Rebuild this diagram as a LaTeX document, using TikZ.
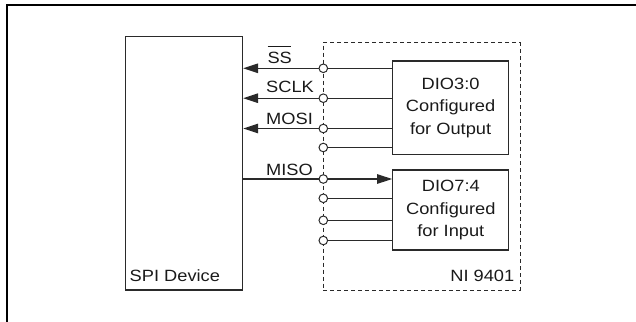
\documentclass[tikz,border=0pt]{standalone}
\usepackage{fontspec}
\setmainfont{Liberation Sans}[FakeStretch=1.12]
\usetikzlibrary{arrows.meta}
\definecolor{ink}{HTML}{2A2A2A}
\definecolor{txt}{HTML}{1A1A1A}
\tikzset{
  box/.style={draw=ink, line width=1.35pt, inner sep=0pt},
  dashbox/.style={draw=ink, line width=1pt, dash pattern=on 4pt off 3pt, inner sep=0pt},
  wire/.style={draw=ink, line width=1.35pt},
  arr/.style={wire, -{Triangle[length=15pt,width=9.5pt]}},
  pin/.style={circle, draw=ink, fill=white, line width=1pt, minimum size=8.6pt, inner sep=0pt},
  lbl/.style={inner sep=0pt, text=txt, font=\fontsize{16.3}{23}\selectfont},
  boxtxt/.style={box, align=center, text=txt, font=\fontsize{16.3}{22.5}\selectfont},
}
\begin{document}
\begin{tikzpicture}[x=1pt,y=-1pt]
\useasboundingbox (0,0) rectangle (636,321);
% frame
\coordinate (fbl) at (6.7,321);
\coordinate (ftl) at (6.7,5);
\coordinate (ftr) at (636,5);
\draw[line width=2pt, line cap=rect] (fbl) -- (ftl) -- (ftr);
% boxes
\node[box, minimum width=116.8pt, minimum height=253.3pt] (spi) at (184.1,163.35) {};
\node[dashbox, minimum width=196.7pt, minimum height=247.5pt] (ni) at (421.65,166.25) {};
\node[boxtxt, minimum width=116pt, minimum height=93.5pt] (dout) at (450.6,107.8) {DIO3:0\\Configured\\for Output};
\node[boxtxt, minimum width=116pt, minimum height=80pt] (din) at (450.8,210) {DIO7:4\\Configured\\for Input};
\node[lbl, anchor=base west] (spilbl) at (129.5,281) {SPI Device};
\node[lbl, anchor=base east] (nilbl) at (514.5,281.7) {NI 9401};
% pins
\coordinate (p1) at (323.3,68.3);
\coordinate (p2) at (323.3,98.2);
\coordinate (p3) at (323.3,128.5);
\coordinate (p4) at (323.3,147.5);
\coordinate (p5) at (323.3,179);
\coordinate (p6) at (323.3,198.3);
\coordinate (p7) at (323.3,220.3);
\coordinate (p8) at (323.3,240.5);
% wires
\draw[arr] (p1 -| dout.west) -- (p1 -| spi.east);
\draw[arr] (p2 -| dout.west) -- (p2 -| spi.east);
\draw[arr] (p3 -| dout.west) -- (p3 -| spi.east);
\draw[wire] (p4 -| dout.west) -- (p4);
\draw[arr] (p5 -| spi.east) -- (p5 -| din.west);
\draw[wire] (p6) -- (p6 -| din.west);
\draw[wire] (p7) -- (p7 -| din.west);
\draw[wire] (p8) -- (p8 -| din.west);
\foreach \i in {1,...,8} \node[pin] (c\i) at (p\i) {};
% labels
\node[lbl, anchor=base west] (ss) at (267.3,63.3) {\rlap{\rule[16.8pt]{23pt}{0.9pt}}SS};
\node[lbl, anchor=base west] (sclk) at (266,92.9) {SCLK};
\node[lbl, anchor=base west] (mosi) at (266,124.3) {MOSI};
\node[lbl, anchor=base west] (miso) at (266,175) {MISO};
\end{tikzpicture}
\end{document}
